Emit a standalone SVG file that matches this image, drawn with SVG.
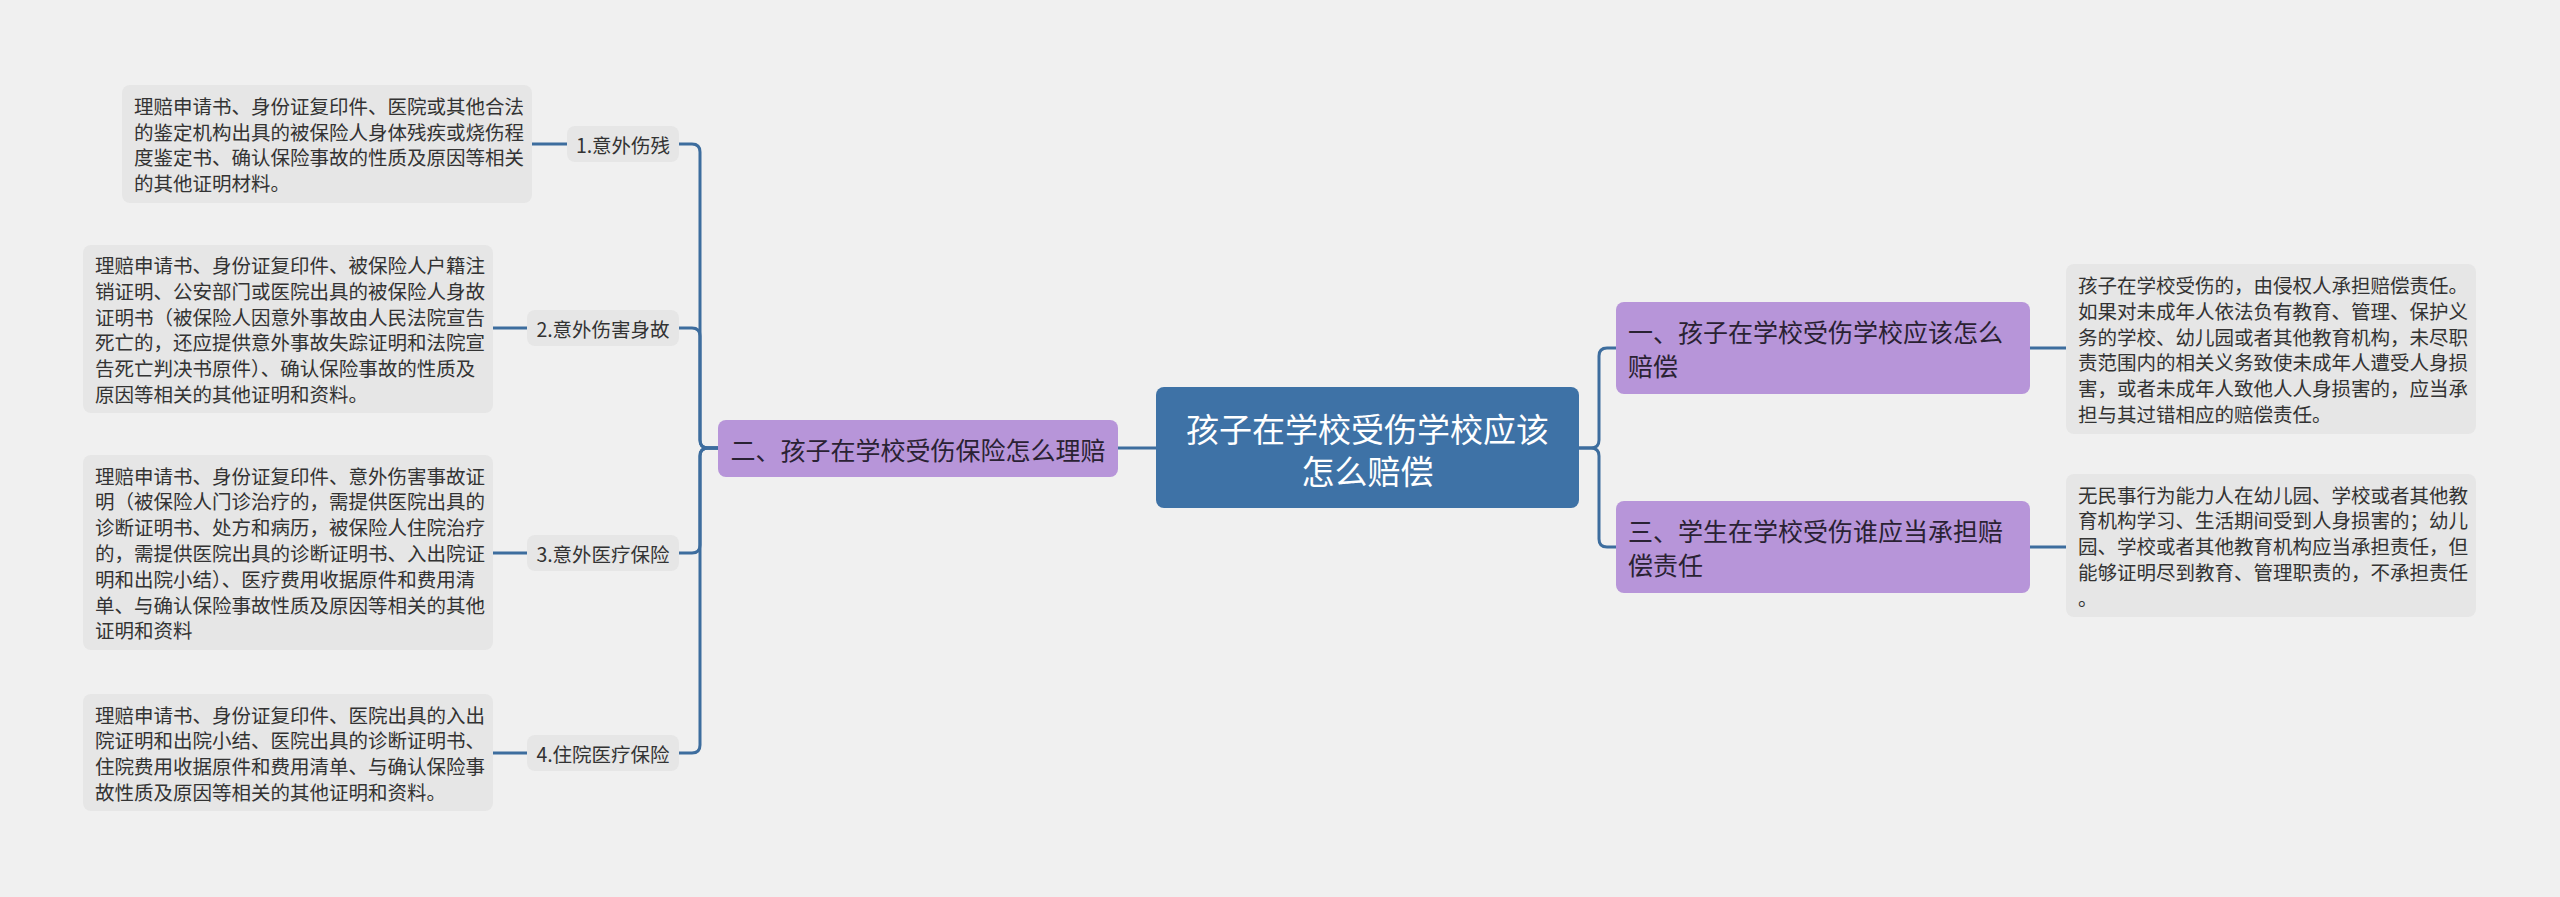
<svg xmlns="http://www.w3.org/2000/svg" width="2560" height="897" viewBox="0 0 2560 897">
<style>
text{font-family:"Noto Sans CJK SC","Noto Sans",sans-serif;dominant-baseline:central}
.bg{fill:#f0f0f0}
.root rect{fill:#3e72a6}
.root text{fill:#ffffff;font-size:33px;text-anchor:middle}
.l1 rect{fill:#b795d9}
.l1 text{fill:#2a2233;font-size:25px}
.l2 rect{fill:#e6e6e6}
.l2 text{fill:#333333;font-size:19.5px;text-anchor:middle}
.leaf rect{fill:#e6e6e6}
.leaf text{fill:#333333;font-size:19.5px}
.conn path{fill:none;stroke:#3d6d9e;stroke-width:3;stroke-linecap:round}
</style>
<rect class="bg" x="0" y="0" width="2560" height="897"/>
<g class="conn" id="connectors">
<path d="M1156 448 H1118"/>
<path d="M718 448 H708 Q700 448 700 440 V152 Q700 144 692 144 H679"/>
<path d="M718 448 H708 Q700 448 700 440 V336 Q700 328 692 328 H679"/>
<path d="M718 448 H708 Q700 448 700 456 V545 Q700 553 692 553 H679"/>
<path d="M718 448 H708 Q700 448 700 456 V745 Q700 753 692 753 H679"/>
<path d="M567 144 H532"/>
<path d="M527 328 H493"/>
<path d="M527 553 H493"/>
<path d="M527 753 H493"/>
<path d="M1579 448 H1591 Q1599 448 1599 440 V356 Q1599 348 1607 348 H1616"/>
<path d="M1579 448 H1591 Q1599 448 1599 456 V539 Q1599 547 1607 547 H1616"/>
<path d="M2030 348 H2066"/>
<path d="M2030 547 H2066"/>
</g>
<g class="root" id="root">
<rect x="1156" y="387" width="423" height="121" rx="8"/>
<text x="1367.5" y="428">孩子在学校受伤学校应该</text>
<text x="1367.5" y="470">怎么赔偿</text>
</g>
<g class="l1" id="n2">
<rect x="718" y="420" width="400" height="57" rx="8"/>
<text x="918" y="448.5" style="text-anchor:middle">二、孩子在学校受伤保险怎么理赔</text>
</g>
<g class="l1" id="n1">
<rect x="1616" y="302" width="414" height="92" rx="8"/>
<text x="1628" y="331">一、孩子在学校受伤学校应该怎么</text>
<text x="1628" y="365">赔偿</text>
</g>
<g class="l1" id="n3">
<rect x="1616" y="501" width="414" height="92" rx="8"/>
<text x="1628" y="530">三、学生在学校受伤谁应当承担赔</text>
<text x="1628" y="564">偿责任</text>
</g>
<g class="l2" id="s1">
<rect x="567" y="126" width="112" height="36" rx="8"/>
<text x="623" y="144">1.意外伤残</text>
</g>
<g class="l2" id="s2">
<rect x="527" y="310" width="152" height="36" rx="8"/>
<text x="603" y="328">2.意外伤害身故</text>
</g>
<g class="l2" id="s3">
<rect x="527" y="535" width="152" height="36" rx="8"/>
<text x="603" y="553">3.意外医疗保险</text>
</g>
<g class="l2" id="s4">
<rect x="527" y="735" width="152" height="36" rx="8"/>
<text x="603" y="753">4.住院医疗保险</text>
</g>
<g class="leaf" id="leaf1">
<rect x="122" y="85" width="410" height="118" rx="8"/>
<text x="134" y="105.3">理赔申请书、身份证复印件、医院或其他合法</text>
<text x="134" y="131.1">的鉴定机构出具的被保险人身体残疾或烧伤程</text>
<text x="134" y="156.9">度鉴定书、确认保险事故的性质及原因等相关</text>
<text x="134" y="182.7">的其他证明材料。</text>
</g>
<g class="leaf" id="leaf2">
<rect x="83" y="245" width="410" height="168" rx="8"/>
<text x="95" y="264.5">理赔申请书、身份证复印件、被保险人户籍注</text>
<text x="95" y="290.3">销证明、公安部门或医院出具的被保险人身故</text>
<text x="95" y="316.1">证明书（被保险人因意外事故由人民法院宣告</text>
<text x="95" y="341.9">死亡的，还应提供意外事故失踪证明和法院宣</text>
<text x="95" y="367.7">告死亡判决书原件）、确认保险事故的性质及</text>
<text x="95" y="393.5">原因等相关的其他证明和资料。</text>
</g>
<g class="leaf" id="leaf3">
<rect x="83" y="455" width="410" height="195" rx="8"/>
<text x="95" y="475">理赔申请书、身份证复印件、意外伤害事故证</text>
<text x="95" y="500.8">明（被保险人门诊治疗的，需提供医院出具的</text>
<text x="95" y="526.6">诊断证明书、处方和病历，被保险人住院治疗</text>
<text x="95" y="552.4">的，需提供医院出具的诊断证明书、入出院证</text>
<text x="95" y="578.2">明和出院小结）、医疗费用收据原件和费用清</text>
<text x="95" y="604">单、与确认保险事故性质及原因等相关的其他</text>
<text x="95" y="629.8">证明和资料</text>
</g>
<g class="leaf" id="leaf4">
<rect x="83" y="694" width="410" height="117" rx="8"/>
<text x="95" y="714">理赔申请书、身份证复印件、医院出具的入出</text>
<text x="95" y="739.8">院证明和出院小结、医院出具的诊断证明书、</text>
<text x="95" y="765.6">住院费用收据原件和费用清单、与确认保险事</text>
<text x="95" y="791.4">故性质及原因等相关的其他证明和资料。</text>
</g>
<g class="leaf" id="leafR1">
<rect x="2066" y="264" width="410" height="170" rx="8"/>
<text x="2078" y="284.5">孩子在学校受伤的，由侵权人承担赔偿责任。</text>
<text x="2078" y="310.3">如果对未成年人依法负有教育、管理、保护义</text>
<text x="2078" y="336.1">务的学校、幼儿园或者其他教育机构，未尽职</text>
<text x="2078" y="361.9">责范围内的相关义务致使未成年人遭受人身损</text>
<text x="2078" y="387.7">害，或者未成年人致他人人身损害的，应当承</text>
<text x="2078" y="413.5">担与其过错相应的赔偿责任。</text>
</g>
<g class="leaf" id="leafR2">
<rect x="2066" y="474" width="410" height="143" rx="8"/>
<text x="2078" y="494">无民事行为能力人在幼儿园、学校或者其他教</text>
<text x="2078" y="519.8">育机构学习、生活期间受到人身损害的；幼儿</text>
<text x="2078" y="545.6">园、学校或者其他教育机构应当承担责任，但</text>
<text x="2078" y="571.4">能够证明尽到教育、管理职责的，不承担责任</text>
<text x="2078" y="597.2">。</text>
</g>
</svg>
